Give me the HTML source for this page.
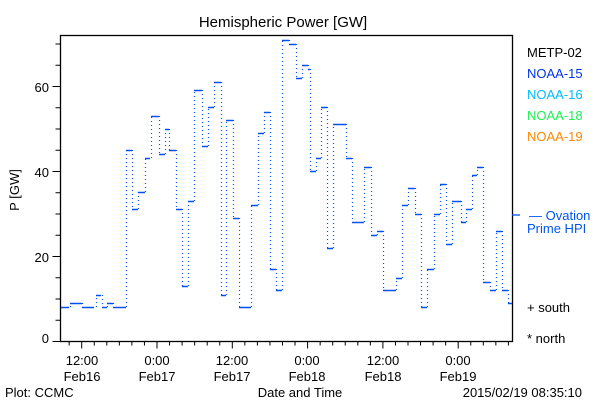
<!DOCTYPE html>
<html><head><meta charset="utf-8"><style>
html,body{margin:0;padding:0;background:#fff;}
svg{display:block;font-family:"Liberation Sans",sans-serif;}
</style></head><body>
<svg id="s" width="600" height="400" viewBox="0 0 600 400" xmlns="http://www.w3.org/2000/svg">
<rect width="600" height="400" fill="#fff"/>
<text x="283" y="27" font-size="15" text-anchor="middle">Hemispheric Power [GW]</text>
<rect x="60.5" y="35.5" width="452" height="306" fill="none" stroke="#000" stroke-width="1.3"/>
<g id="ticks" stroke="#000" stroke-width="1"></g>
<g font-size="13" text-anchor="end">
<text x="49" y="343">0</text><text x="49" y="262">20</text><text x="49" y="177">40</text><text x="49" y="92">60</text>
</g>
<text transform="translate(19,190) rotate(-90)" font-size="13" text-anchor="middle">P [GW]</text>
<g font-size="13" text-anchor="middle">
<text x="82" y="365">12:00</text><text x="82" y="381">Feb16</text>
<text x="157" y="365">0:00</text><text x="157" y="381">Feb17</text>
<text x="232" y="365">12:00</text><text x="232" y="381">Feb17</text>
<text x="307" y="365">0:00</text><text x="307" y="381">Feb18</text>
<text x="383" y="365">12:00</text><text x="383" y="381">Feb18</text>
<text x="458" y="365">0:00</text><text x="458" y="381">Feb19</text>
<text x="300" y="397">Date and Time</text>
</g>
<text x="5" y="397" font-size="13">Plot: CCMC</text>
<text x="582" y="397" font-size="13" text-anchor="end">2015/02/19 08:35:10</text>
<g font-size="13">
<text x="527" y="57" fill="#000">METP-02</text>
<text x="527" y="78" fill="#0033ee">NOAA-15</text>
<text x="527" y="99" fill="#00bbff">NOAA-16</text>
<text x="527" y="120" fill="#22ee55">NOAA-18</text>
<text x="527" y="141" fill="#ff8800">NOAA-19</text>
<text x="529" y="220" fill="#0055ee">— Ovation</text>
<text x="527" y="233" fill="#0055ee">Prime HPI</text>
<text x="527" y="312" fill="#000">+ south</text>
<text x="527" y="343" fill="#000">* north</text>
</g>
<line x1="512" y1="215" x2="520" y2="215" stroke="#0055ee" stroke-width="1.3"/>
<g id="data" stroke="#0050f0" fill="none"></g>
</svg>
<script>
var segs=[[61,69,307],[70,82,303],[82,94,307],[96,101,295],[102,107,307],[107,113,303],[113,126,307],[126,132,150],[132,138,209],[138,145,192],[145,150,158],[151,159,116],[159,165,154],[165,169,129],[169,176,150],[176,182,209],[182,188,286],[188,194,201],[194,202,90],[202,208,146],[208,214,107],[214,221,82],[221,226,295],[226,233,120],[233,239,218],[239,251,307],[251,258,205],[258,264,133],[264,270,112],[270,276,269],[276,282,290],[282,289,40],[289,296,44],[296,302,78],[302,308,65],[308,310,69],[310,316,171],[316,321,158],[321,327,107],[327,333,248],[333,346,124],[346,352,158],[352,364,222],[364,371,167],[371,377,235],[377,383,231],[383,396,290],[396,402,278],[402,408,205],[408,415,188],[415,421,214],[421,427,307],[427,434,269],[434,440,214],[440,446,184],[446,452,244],[452,461,201],[461,466,222],[466,472,209],[472,477,175],[477,483,167],[483,490,282],[490,496,290],[496,502,231],[502,508,290],[508,512,303]];
var d=document.getElementById("data"),h="";
for(var i=0;i<segs.length;i++){var s=segs[i];
h+='<line x1="'+s[0]+'" x2="'+s[1]+'" y1="'+(s[2]+.5)+'" y2="'+(s[2]+.5)+'" stroke-width="1.5"/>';
if(i>0){var p=segs[i-1];h+='<line x1="'+(s[0]+.5)+'" x2="'+(s[0]+.5)+'" y1="'+p[2]+'" y2="'+s[2]+'" stroke-width="1.2" stroke-dasharray="1 3"/>';}}
d.innerHTML=h;
var t="",x0=81.7,dx=75.3/6;
for(var k=-1;k<=34;k++){var x=x0+k*dx;if(x<61||x>512)continue;var L=(k%6==0)?7:4;
t+='<line x1="'+x+'" x2="'+x+'" y1="341.5" y2="'+(341.5+L)+'"/>';}
for(var v=0;v<=70;v+=5){var y=341.5-4.25*v;var L=(v%20==0)?8:5;
t+='<line x1="60.5" x2="'+(60.5-L)+'" y1="'+y+'" y2="'+y+'"/>';}
document.getElementById("ticks").innerHTML=t;
</script>
</body></html>
